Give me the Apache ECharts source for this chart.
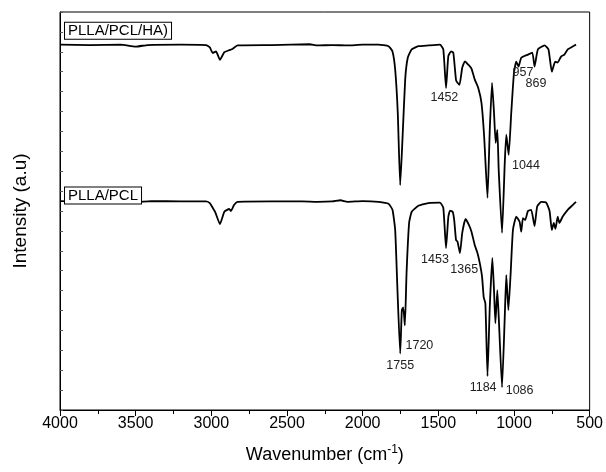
<!DOCTYPE html>
<html>
<head>
<meta charset="utf-8">
<script src="https://cdn.jsdelivr.net/npm/echarts@6/dist/echarts.min.js"></script>
<style>
  html, body { margin: 0; padding: 0; background: #fff; }
  #chart { width: 606px; height: 472px; }
</style>
</head>
<body>
<div id="chart"></div>
<script>
// Wavenumber ticks (cm-1)
const xTicks = [4000, 3500, 3000, 2500, 2000, 1500, 1000, 500];

// PLLA/PCL/HA spectrum (offset upper trace)
const haWavenumber = [4000, 3800, 3600, 3500, 3420, 3200, 3035, 3010, 2991, 2969, 2943, 2914, 2882, 2860, 2827, 2600, 2350, 2300, 2200, 2100, 2000, 1895, 1829, 1803, 1785, 1768, 1752, 1737, 1719, 1702, 1676, 1632, 1566, 1489, 1467, 1449, 1434, 1416, 1401, 1383, 1373, 1360, 1342, 1324, 1303, 1281, 1259, 1237, 1215, 1197, 1175, 1160, 1145, 1132, 1121, 1110, 1101, 1079, 1061, 1051, 1035, 1018, 1000, 985, 970, 952, 908, 879, 864, 842, 798, 772, 750, 728, 711, 689, 667, 645, 623, 590];
const haIntensity  = [91.8, 91.7, 91.8, 91.3, 91.7, 91.8, 91.7, 91.1, 89.7, 90.1, 88.0, 89.9, 90.4, 90.7, 91.6, 91.7, 91.9, 91.6, 91.7, 91.6, 91.8, 91.8, 91.4, 90.1, 85.5, 74.7, 56.5, 67.9, 83.0, 88.5, 90.6, 91.4, 91.6, 91.8, 90.6, 80.9, 88.9, 90.1, 89.8, 82.9, 82.2, 81.7, 86.0, 87.6, 86.8, 85.8, 83.0, 81.0, 77.2, 68.6, 53.3, 70.4, 82.2, 74.7, 67.1, 70.4, 60.3, 44.5, 62.1, 69.2, 64.1, 74.7, 84.8, 87.5, 86.3, 88.5, 89.3, 89.8, 86.3, 90.6, 91.6, 90.6, 85.0, 87.5, 87.3, 88.8, 89.3, 90.6, 91.1, 91.8];

// PLLA/PCL spectrum (lower trace)
const pclWavenumber = [4000, 3800, 3600, 3500, 3400, 3200, 3035, 3010, 2991, 2975, 2943, 2914, 2882, 2870, 2850, 2827, 2600, 2400, 2300, 2200, 2147, 2100, 2000, 1895, 1829, 1803, 1785, 1770, 1752, 1741, 1732, 1721, 1710, 1693, 1676, 1632, 1566, 1489, 1467, 1449, 1434, 1423, 1405, 1395, 1383, 1373, 1357, 1342, 1320, 1298, 1281, 1259, 1241, 1226, 1211, 1200, 1189, 1175, 1160, 1143, 1132, 1123, 1110, 1099, 1079, 1061, 1051, 1037, 1022, 1007, 985, 963, 952, 941, 926, 908, 886, 864, 847, 820, 787, 765, 750, 737, 726, 711, 700, 678, 645, 612, 590];
const pclIntensity  = [52.5, 52.4, 52.5, 52.2, 52.5, 52.4, 52.4, 52.0, 50.8, 49.8, 46.7, 49.8, 50.5, 50.0, 51.5, 52.3, 52.4, 52.4, 52.3, 52.4, 52.7, 52.3, 52.5, 52.3, 51.8, 50.3, 45.2, 30.1, 14.2, 25.1, 25.8, 21.3, 34.4, 47.0, 49.8, 51.3, 52.0, 52.1, 50.8, 40.7, 48.5, 50.1, 49.8, 47.7, 42.7, 42.3, 39.4, 44.5, 48.0, 46.5, 44.8, 41.4, 39.4, 36.9, 33.5, 28.3, 26.8, 8.5, 25.9, 38.2, 30.1, 21.8, 30.1, 21.8, 5.7, 23.4, 33.9, 25.1, 34.4, 45.2, 48.6, 47.3, 44.8, 48.2, 47.7, 50.0, 50.3, 46.2, 51.1, 52.3, 52.1, 50.0, 45.2, 47.0, 45.5, 48.6, 47.0, 48.6, 50.3, 51.5, 52.3];

// Sample names with their label anchor (wavenumber, intensity)
const sampleNames = ['PLLA/PCL/HA)', 'PLLA/PCL'];
const sampleLabelAt = [[3967, 95.3], [3967, 53.9]];

// Peak annotations: text, wavenumber, intensity of label centre
const haPeakText = ['1452', '957', '869', '1044'];
const haPeakAt = [[1460, 78.5], [941, 84.7], [855, 82.0], [921, 61.3]];
const pclPeakText = ['1453', '1365', '1720', '1755', '1184', '1086'];
const pclPeakAt = [[1522, 37.9], [1329, 35.4], [1625, 16.2], [1752, 11.2], [1204, 5.7], [963, 4.9]];

const FONT = 'Liberation Sans, Arial, Helvetica, sans-serif';

function zip(a, b) { return a.map((v, i) => [v, b[i]]); }

function peakPoints(texts, at) {
  return texts.map((t, i) => ({
    coord: at[i], value: t, symbol: 'circle', symbolSize: 0,
    label: { show: true, position: 'inside', formatter: t, color: '#222', fontSize: 12.5, fontFamily: FONT }
  }));
}

function namePoint(name, at) {
  return {
    coord: at, value: name, symbol: 'circle', symbolSize: 0,
    label: {
      show: true, position: 'inside', align: 'left', verticalAlign: 'middle',
      formatter: name, color: '#000', fontSize: 15, fontFamily: FONT,
      borderColor: '#000', borderWidth: 1, padding: [1, 3, 0, 3], backgroundColor: '#fff'
    }
  };
}

const chart = echarts.init(document.getElementById('chart'), null, { renderer: 'canvas' });

chart.setOption({
  animation: false,
  backgroundColor: '#fff',
  grid: { left: 60, right: 14, top: 12, bottom: 62, show: true, borderColor: '#000', borderWidth: 1, backgroundColor: 'transparent' },
  xAxis: {
    type: 'value', inverse: true, min: 500, max: 4000, interval: 500,
    name: 'Wavenumber (cm{sup|-1})', nameLocation: 'middle', nameGap: 34,
    nameTextStyle: { fontSize: 18, color: '#000', fontFamily: FONT,
      rich: { sup: { fontSize: 12, verticalAlign: 'top', padding: [0, 0, 10, 0], color: '#000', fontFamily: FONT } } },
    axisLine: { show: true, onZero: false, lineStyle: { color: '#000', width: 1 } },
    axisTick: { show: true, inside: false, length: 6, lineStyle: { color: '#000' } },
    minorTick: { show: true, splitNumber: 2, length: 4, lineStyle: { color: '#000' } },
    axisLabel: { color: '#000', fontSize: 16, fontFamily: FONT, margin: 6,
      formatter: v => xTicks.includes(v) ? String(v) : '' },
    splitLine: { show: false }
  },
  yAxis: {
    type: 'value', min: 0, max: 100, interval: 5,
    name: 'Intensity (a.u)', nameLocation: 'middle', nameGap: 30,
    nameTextStyle: { fontSize: 19, color: '#000', fontFamily: FONT },
    axisLine: { show: true, onZero: false, lineStyle: { color: '#000', width: 1 } },
    axisTick: { show: true, inside: true, length: 3, lineStyle: { color: '#555' } },
    axisLabel: { show: false },
    splitLine: { show: false }
  },
  series: [
    {
      name: sampleNames[0], type: 'line', data: zip(haWavenumber, haIntensity),
      showSymbol: false, lineStyle: { color: '#000', width: 1.8 }, smooth: 0.15,
      markPoint: { silent: true, data: [namePoint(sampleNames[0], sampleLabelAt[0])].concat(peakPoints(haPeakText, haPeakAt)) }
    },
    {
      name: sampleNames[1], type: 'line', data: zip(pclWavenumber, pclIntensity),
      showSymbol: false, lineStyle: { color: '#000', width: 1.8 }, smooth: 0.15,
      markPoint: { silent: true, data: [namePoint(sampleNames[1], sampleLabelAt[1])].concat(peakPoints(pclPeakText, pclPeakAt)) }
    }
  ]
});
</script>
</body>
</html>
